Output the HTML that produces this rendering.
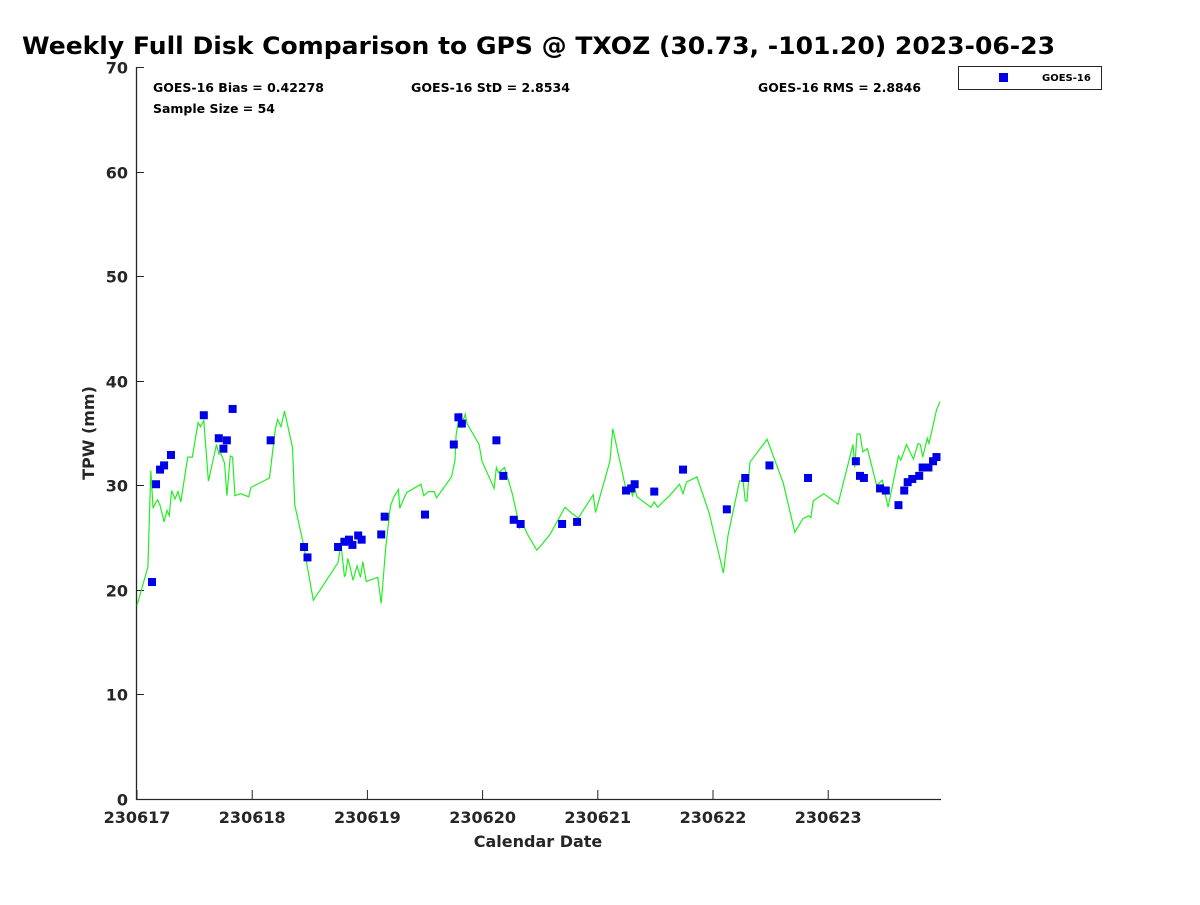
<!DOCTYPE html>
<html><head><meta charset="utf-8"><style>
body{margin:0;background:#fff}
svg text{font-family:"DejaVu Sans","Liberation Sans",sans-serif;font-weight:bold;fill:#262626}
</style></head><body>
<svg id="chart" width="1200" height="900" xmlns="http://www.w3.org/2000/svg">
<text x="22" y="54" font-size="24" textLength="1033" lengthAdjust="spacingAndGlyphs" style="fill:#000">Weekly Full Disk Comparison to GPS @ TXOZ (30.73, -101.20) 2023-06-23</text>
<g id="axes"></g>
<g id="series"></g>
<text x="153" y="92" font-size="12" textLength="171" lengthAdjust="spacingAndGlyphs" style="fill:#000">GOES-16 Bias = 0.42278</text>
<text x="411" y="92" font-size="12" textLength="159" lengthAdjust="spacingAndGlyphs" style="fill:#000">GOES-16 StD = 2.8534</text>
<text x="758" y="92" font-size="12" textLength="163" lengthAdjust="spacingAndGlyphs" style="fill:#000">GOES-16 RMS = 2.8846</text>
<text x="153" y="113" font-size="12" textLength="122" lengthAdjust="spacingAndGlyphs" style="fill:#000">Sample Size = 54</text>
<text x="538" y="847" font-size="16" text-anchor="middle">Calendar Date</text>
<text transform="translate(94,433) rotate(-90)" font-size="16" text-anchor="middle">TPW (mm)</text>
<g>
<rect x="958.5" y="66.5" width="143" height="23" fill="#fff" stroke="#262626" stroke-width="1"/>
<rect x="999" y="73" width="9" height="9" fill="#0000e6"/>
<text x="1042" y="81" font-size="10" style="fill:#000">GOES-16</text>
</g>
</svg>
<script>
const yTicks=[0,10,20,30,40,50,60,70];
const xTickLabels=["230617","230618","230619","230620","230621","230622","230623"];
const gpsDays=[0.0,0.095,0.12,0.14,0.165,0.18,0.20,0.235,0.26,0.28,0.30,0.33,0.356,0.38,0.44,0.48,0.53,0.55,0.58,0.62,0.69,0.71,0.73,0.76,0.78,0.81,0.83,0.85,0.90,0.97,0.99,1.15,1.20,1.22,1.25,1.28,1.35,1.37,1.44,1.53,1.745,1.77,1.80,1.81,1.83,1.85,1.875,1.91,1.94,1.96,1.99,2.09,2.12,2.16,2.20,2.23,2.27,2.28,2.34,2.465,2.49,2.53,2.58,2.60,2.73,2.76,2.77,2.80,2.82,2.85,2.865,2.97,2.995,3.10,3.12,3.14,3.19,3.255,3.29,3.32,3.35,3.385,3.47,3.52,3.585,3.715,3.776,3.83,3.845,3.96,3.98,4.105,4.13,4.245,4.28,4.30,4.32,4.34,4.46,4.49,4.52,4.63,4.71,4.74,4.77,4.86,4.965,5.09,5.13,5.23,5.26,5.28,5.295,5.32,5.47,5.61,5.71,5.78,5.815,5.83,5.85,5.87,5.96,6.085,6.215,6.23,6.25,6.276,6.30,6.34,6.42,6.47,6.52,6.61,6.63,6.68,6.74,6.78,6.80,6.82,6.86,6.875,6.94,6.97];
const gpsTPW=[18.5,22.2,31.4,27.8,28.4,28.6,28.1,26.5,27.6,27.1,29.5,28.7,29.4,28.4,32.7,32.7,36.0,35.6,36.2,30.4,33.9,33.0,33.0,32.1,29.0,32.8,32.7,29.0,29.2,28.9,29.8,30.7,35.3,36.3,35.6,37.1,33.6,28.1,24.6,19.0,22.6,24.4,21.3,21.4,23.0,22.2,20.9,22.3,21.2,22.7,20.8,21.2,18.7,24.1,28.0,28.9,29.6,27.8,29.3,30.1,29.0,29.4,29.4,28.8,30.8,32.4,34.8,36.9,35.9,36.8,35.9,33.9,32.3,29.7,31.7,31.2,31.7,29.3,27.6,25.9,26.3,25.4,23.8,24.4,25.3,27.9,27.3,26.9,27.1,29.1,27.4,32.3,35.4,29.6,29.9,29.0,29.7,28.9,27.9,28.4,27.9,29.1,30.1,29.2,30.3,30.8,27.4,21.6,25.2,30.4,30.5,28.5,28.5,32.2,34.4,30.2,25.5,26.8,27.0,27.1,26.9,28.5,29.2,28.2,33.9,31.7,34.9,34.9,33.2,33.5,30.0,30.5,27.9,32.8,32.4,33.9,32.5,34.0,33.9,32.7,34.5,34.0,37.2,38.0];
const goesDays=[0.13,0.165,0.20,0.235,0.295,0.58,0.71,0.75,0.78,0.83,1.16,1.45,1.48,1.745,1.80,1.84,1.87,1.92,1.95,2.12,2.15,2.50,2.75,2.79,2.82,3.12,3.18,3.27,3.33,3.69,3.82,4.245,4.29,4.32,4.49,4.74,5.12,5.28,5.49,5.825,6.24,6.276,6.31,6.45,6.50,6.61,6.66,6.69,6.73,6.79,6.82,6.87,6.91,6.94];
const goesTPW=[20.75,30.1,31.5,31.9,32.9,36.7,34.5,33.5,34.3,37.3,34.3,24.1,23.1,24.1,24.6,24.8,24.3,25.2,24.8,25.3,27.0,27.2,33.9,36.5,35.9,34.3,30.9,26.7,26.3,26.3,26.5,29.5,29.7,30.1,29.4,31.5,27.7,30.7,31.9,30.7,32.3,30.9,30.7,29.7,29.5,28.1,29.5,30.3,30.6,30.9,31.7,31.7,32.3,32.7];

const NS="http://www.w3.org/2000/svg";
const L=136,R=941,T=67,B=799,X0=137,DX=115.2;
const xs=d=>X0+d*DX, ys=v=>B-(v/70)*(B-T);
const axes=document.getElementById('axes'), series=document.getElementById('series');
function mk(tag,attrs,parent){const e=document.createElementNS(NS,tag);for(const k in attrs)e.setAttribute(k,attrs[k]);parent.appendChild(e);return e;}
const ax=mk('path',{d:`M${L+0.5},${T} V${B+0.5} H${R}`,fill:'none',stroke:'#262626','stroke-width':1.3},axes);


yTicks.forEach(v=>{
  const y=Math.round(ys(v))+0.5;
  const t=mk('line',{x1:L,x2:L+8,y1:y,y2:y,stroke:'#262626','stroke-width':1},axes);
  
  
  const tx=mk('text',{x:L-8,y:y+6,'font-size':16,'text-anchor':'end'},axes);
  
  
  tx.textContent=v;
});
xTickLabels.forEach((lab,i)=>{
  const x=xs(i);
  const t=mk('line',{x1:x,x2:x,y1:B,y2:B-9,stroke:'#262626','stroke-width':1},axes);
  
  
  const tx=mk('text',{x:x,y:B+24,'font-size':16,'text-anchor':'middle'},axes);
  
  
  tx.textContent=lab;
});
const pts=gpsDays.map((d,i)=>xs(d).toFixed(1)+','+ys(gpsTPW[i]).toFixed(1)).join(' ');
const line=mk('polyline',{points:pts,fill:'none',stroke:'#22ee22','stroke-width':1.2},series);


goesDays.forEach((d,i)=>{
  const r=mk('rect',{x:xs(d)-4,y:ys(goesTPW[i])-4,width:8,height:8,fill:'#0000e6'},series);
  
  
});
</script>
</body></html>
